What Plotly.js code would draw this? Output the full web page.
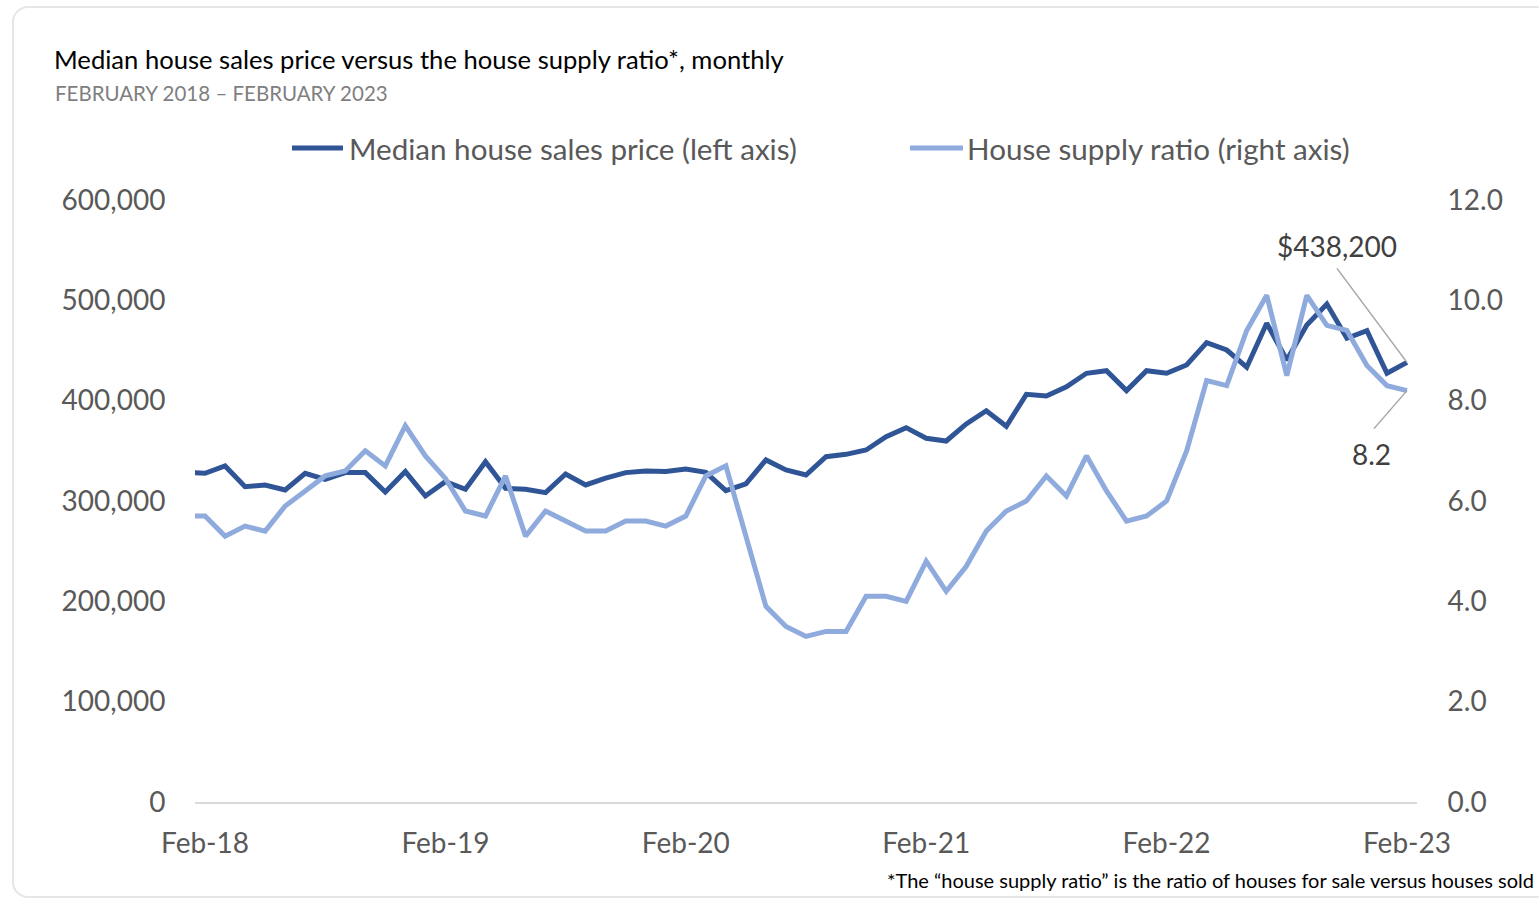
<!DOCTYPE html>
<html>
<head>
<meta charset="utf-8">
<script src="https://cdn.plot.ly/plotly-3.0.1.min.js"></script>
<style>
  html, body { margin: 0; padding: 0; background: #ffffff; overflow: hidden; }
  #frame { position: absolute; left: 12px; top: 6px; width: 1600px; height: 892px;
           border: 2px solid #e6e6e6; border-radius: 16px; box-sizing: border-box; }
  #chart { position: absolute; left: 0; top: 0; width: 1539px; height: 899px; }
</style>
</head>
<body>
<div id="frame"></div>
<div id="chart"></div>
<script>
// Months (Jan-18 is only partly visible, clipped at the left edge of the plot)
const months = [
  "Jan-18","Feb-18","Mar-18","Apr-18","May-18","Jun-18","Jul-18","Aug-18","Sep-18","Oct-18","Nov-18","Dec-18",
  "Jan-19","Feb-19","Mar-19","Apr-19","May-19","Jun-19","Jul-19","Aug-19","Sep-19","Oct-19","Nov-19","Dec-19",
  "Jan-20","Feb-20","Mar-20","Apr-20","May-20","Jun-20","Jul-20","Aug-20","Sep-20","Oct-20","Nov-20","Dec-20",
  "Jan-21","Feb-21","Mar-21","Apr-21","May-21","Jun-21","Jul-21","Aug-21","Sep-21","Oct-21","Nov-21","Dec-21",
  "Jan-22","Feb-22","Mar-22","Apr-22","May-22","Jun-22","Jul-22","Aug-22","Sep-22","Oct-22","Nov-22","Dec-22",
  "Jan-23","Feb-23"
];

const medianPrice = [
  328600, 327600, 334900, 314300, 316000, 311000, 327600, 321600, 328300, 328300, 309000, 329300,
  305000, 319300, 311700, 339200, 312600, 311700, 308300, 326900, 316000, 322900, 328300, 329900,
  329300, 331900, 328600, 310300, 317000, 340900, 330900, 325900, 344200, 346500, 350800, 364100,
  373100, 362500, 359800, 376800, 390000, 374500, 406300, 404700, 413900, 427300, 429900, 410000,
  429900, 427300, 435600, 457800, 450500, 433300, 477100, 440500, 475400, 496300, 462200, 469800,
  427300, 438200
];

const supplyRatio = [
  5.7, 5.7, 5.3, 5.5, 5.4, 5.9, 6.2, 6.5, 6.6, 7.0, 6.7, 7.5,
  6.9, 6.45, 5.8, 5.7, 6.5, 5.3, 5.8, 5.6, 5.4, 5.4, 5.6, 5.6,
  5.5, 5.7, 6.5, 6.7, 5.3, 3.9, 3.5, 3.3, 3.4, 3.4, 4.1, 4.1,
  4.0, 4.8, 4.2, 4.7, 5.4, 5.8, 6.0, 6.5, 6.1, 6.9, 6.2, 5.6,
  5.7, 6.0, 7.0, 8.4, 8.3, 9.4, 10.1, 8.5, 10.1, 9.5, 9.4, 8.7,
  8.3, 8.2
];

const xTicks = ["Feb-18","Feb-19","Feb-20","Feb-21","Feb-22","Feb-23"];
const leftTicks = [0, 100000, 200000, 300000, 400000, 500000, 600000];
const leftTickText = ["0","100,000","200,000","300,000","400,000","500,000","600,000"];
const rightTicks = [0, 2, 4, 6, 8, 10, 12];
const rightTickText = ["0.0","2.0","4.0","6.0","8.0","10.0","12.0"];

const seriesNames = ["Median house sales price (left axis)", "House supply ratio (right axis)"];
const colors = ["#2F5597", "#8FAADC"];

const lastIdx = months.length - 1;
const lastPrice = medianPrice[lastIdx];
const lastSupply = supplyRatio[lastIdx];

const traces = [
  { x: months, y: medianPrice, type: "scatter", mode: "lines", name: seriesNames[0],
    line: { color: colors[0], width: 5, shape: "linear" }, yaxis: "y", showlegend: false,
    hoverinfo: "skip" },
  { x: months, y: supplyRatio, type: "scatter", mode: "lines", name: seriesNames[1],
    line: { color: colors[1], width: 5, shape: "linear" }, yaxis: "y2", showlegend: false,
    hoverinfo: "skip" }
];

// Plot area: x 195..1417, y 200..802
const W = 1539, H = 899;
const L = 195, R = 1417, T = 200, B = 802;
const px = v => (v - L) / (R - L);
const py = v => (B - v) / (B - T);

const layout = {
  width: W, height: H,
  margin: { l: L, r: W - R, t: T, b: H - B, pad: 0 },
  paper_bgcolor: "rgba(0,0,0,0)",
  plot_bgcolor: "rgba(0,0,0,0)",
  font: { family: "Lato, 'Open Sans', sans-serif", color: "#595959", size: 28 },
  showlegend: false,
  title: {
    text: "Median house sales price versus the house supply ratio*, monthly",
    font: { family: "Lato, sans-serif", size: 25.6, color: "#000000" },
    x: 54 / W, xanchor: "left", xref: "container",
    y: 1 - 60 / H, yanchor: "middle", yref: "container"
  },
  xaxis: {
    type: "category",
    range: [0.5, lastIdx + 0.5],
    tickmode: "array", tickvals: xTicks, ticktext: xTicks,
    ticks: "outside", ticklen: 15, tickcolor: "rgba(0,0,0,0)",
    tickfont: { size: 28, color: "#595959" },
    showline: true, linecolor: "#d9d9d9", linewidth: 2,
    showgrid: false, zeroline: false, fixedrange: true
  },
  yaxis: {
    range: [0, 600000],
    tickmode: "array", tickvals: leftTicks, ticktext: leftTickText,
    ticks: "outside", ticklen: 23, tickcolor: "rgba(0,0,0,0)",
    tickfont: { size: 28, color: "#595959" },
    showline: false, showgrid: false, zeroline: false, fixedrange: true
  },
  yaxis2: {
    range: [0, 12], overlaying: "y", side: "right",
    tickmode: "array", tickvals: rightTicks, ticktext: rightTickText,
    ticks: "outside", ticklen: 24, tickcolor: "rgba(0,0,0,0)",
    tickfont: { size: 28, color: "#595959" },
    showline: false, showgrid: false, zeroline: false, fixedrange: true
  },
  shapes: [
    // legend samples
    { type: "line", xref: "paper", yref: "paper", x0: px(292), x1: px(343), y0: py(148), y1: py(148),
      line: { color: colors[0], width: 5 } },
    { type: "line", xref: "paper", yref: "paper", x0: px(910), x1: px(963), y0: py(148), y1: py(148),
      line: { color: colors[1], width: 5 } },
    // leader lines for end labels
    { type: "line", xref: "x", yref: "y", xsizemode: "pixel", ysizemode: "pixel",
      xanchor: months[lastIdx], yanchor: lastPrice,
      x0: 0, x1: -70, y0: 0, y1: 94,
      line: { color: "#a6a6a6", width: 1.5 } },
    { type: "line", xref: "x", yref: "y2", xsizemode: "pixel", ysizemode: "pixel",
      xanchor: months[lastIdx], yanchor: lastSupply,
      x0: 0, x1: -33, y0: 0, y1: -38,
      line: { color: "#a6a6a6", width: 1.5 } }
  ],
  annotations: [
    { text: "FEBRUARY 2018 \u2013 FEBRUARY 2023", xref: "paper", yref: "paper",
      x: px(53), y: py(93), xanchor: "left", yanchor: "middle", showarrow: false,
      font: { size: 20.5, color: "#7f7f7f" } },
    { text: seriesNames[0], xref: "paper", yref: "paper",
      x: px(347), y: py(148), xanchor: "left", yanchor: "middle", showarrow: false,
      font: { size: 29.6, color: "#595959" } },
    { text: seriesNames[1], xref: "paper", yref: "paper",
      x: px(965), y: py(148), xanchor: "left", yanchor: "middle", showarrow: false,
      font: { size: 29.6, color: "#595959" } },
    { text: "$" + lastPrice.toLocaleString("en-US"), xref: "x", yref: "y",
      x: months[lastIdx], y: lastPrice, xanchor: "center", yanchor: "middle",
      xshift: -70, yshift: 116, showarrow: false,
      font: { size: 28, color: "#404040" } },
    { text: lastSupply.toFixed(1), xref: "x", yref: "y2",
      x: months[lastIdx], y: lastSupply, xanchor: "center", yanchor: "middle",
      xshift: -35, yshift: -63, showarrow: false,
      font: { size: 28, color: "#404040" } },
    { text: "*The \u201chouse supply ratio\u201d is the ratio of houses for sale versus houses sold",
      xref: "paper", yref: "paper", x: px(1536), y: py(880), xanchor: "right", yanchor: "middle",
      showarrow: false, font: { size: 20, color: "#000000" } }
  ]
};

Plotly.newPlot("chart", traces, layout, { staticPlot: true, displayModeBar: false });
</script>
</body>
</html>
